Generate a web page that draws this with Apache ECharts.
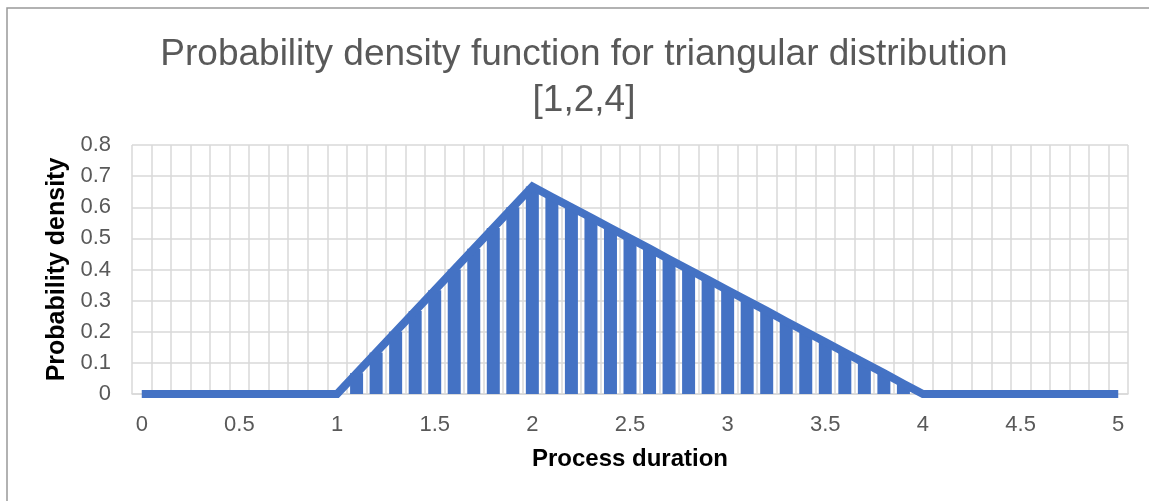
<!DOCTYPE html>
<html>
<head>
<meta charset="utf-8">
<script src="https://cdn.jsdelivr.net/npm/echarts@6/dist/echarts.min.js"></script>
<style>
  html, body { margin: 0; padding: 0; background: #ffffff; }
  #chart { width: 1149px; height: 501px; }
</style>
</head>
<body>
<div id="chart"></div>
<script>
// Process durations sampled every 0.1 on the horizontal axis
var durations = [
  '0', '0.1', '0.2', '0.3', '0.4', '0.5', '0.6', '0.7', '0.8', '0.9',
  '1', '1.1', '1.2', '1.3', '1.4', '1.5', '1.6', '1.7', '1.8', '1.9',
  '2', '2.1', '2.2', '2.3', '2.4', '2.5', '2.6', '2.7', '2.8', '2.9',
  '3', '3.1', '3.2', '3.3', '3.4', '3.5', '3.6', '3.7', '3.8', '3.9',
  '4', '4.1', '4.2', '4.3', '4.4', '4.5', '4.6', '4.7', '4.8', '4.9',
  '5'
];

// Density of the triangular distribution with min 1, mode 2, max 4
var density = [
  0, 0, 0, 0, 0, 0, 0, 0, 0, 0,
  0, 0.067, 0.133, 0.2, 0.267, 0.333, 0.4, 0.467, 0.533, 0.6,
  0.667, 0.633, 0.6, 0.567, 0.533, 0.5, 0.467, 0.433, 0.4, 0.367,
  0.333, 0.3, 0.267, 0.233, 0.2, 0.167, 0.133, 0.1, 0.067, 0.033,
  0, 0, 0, 0, 0, 0, 0, 0, 0, 0,
  0
];

var yTicks = { min: 0, max: 0.8, step: 0.1 };

var titleText = 'Probability density function for triangular distribution\n[1,2,4]';
var xName = 'Process duration';
var yName = 'Probability density';

var FONT = "'Liberation Sans', Arial, sans-serif";
var BLUE = '#4472C4';
var GRID = '#D9D9D9';
var LABEL = '#595959';

var chart = echarts.init(document.getElementById('chart'), null, { renderer: 'canvas' });

chart.setOption({
  animation: false,
  backgroundColor: '#ffffff',
  graphic: [{
    type: 'rect',
    silent: true,
    shape: { x: 7, y: 8, width: 1400, height: 800 },
    style: { fill: 'none', stroke: '#999999', lineWidth: 1.5 }
  }],
  title: {
    text: titleText,
    left: 579,
    top: 27,
    textAlign: 'center',
    textStyle: {
      fontFamily: FONT,
      fontSize: 37,
      fontWeight: 'normal',
      color: LABEL,
      lineHeight: 46
    }
  },
  grid: { left: 132, right: 21, top: 145, bottom: 107, containLabel: false },
  xAxis: {
    type: 'category',
    data: durations,
    boundaryGap: true,
    name: xName,
    nameLocation: 'middle',
    nameGap: 53,
    nameTextStyle: { fontFamily: FONT, fontSize: 24, fontWeight: 'bold', color: '#000000' },
    axisLine: { show: true, lineStyle: { color: GRID, width: 1.5 } },
    axisTick: { show: false },
    axisLabel: {
      interval: 4,
      margin: 20,
      fontFamily: FONT,
      fontSize: 22,
      color: LABEL
    },
    splitLine: { show: true, interval: 0, lineStyle: { color: GRID, width: 1.5 } }
  },
  yAxis: {
    type: 'value',
    min: yTicks.min,
    max: yTicks.max,
    interval: yTicks.step,
    name: yName,
    nameLocation: 'middle',
    nameGap: 62,
    nameTextStyle: { fontFamily: FONT, fontSize: 25, fontWeight: 'bold', color: '#000000' },
    axisLine: { show: false },
    axisTick: { show: false },
    axisLabel: {
      margin: 21,
      fontFamily: FONT,
      fontSize: 22,
      color: LABEL
    },
    splitLine: { show: true, lineStyle: { color: GRID, width: 1.5 } }
  },
  series: [
    {
      type: 'bar',
      data: density,
      barWidth: 13,
      itemStyle: { color: BLUE },
      silent: true,
      z: 2
    },
    {
      type: 'line',
      data: density,
      symbol: 'none',
      lineStyle: { color: BLUE, width: 8, cap: 'butt', join: 'miter', miterLimit: 10 },
      silent: true,
      z: 3
    }
  ]
});
</script>
</body>
</html>
